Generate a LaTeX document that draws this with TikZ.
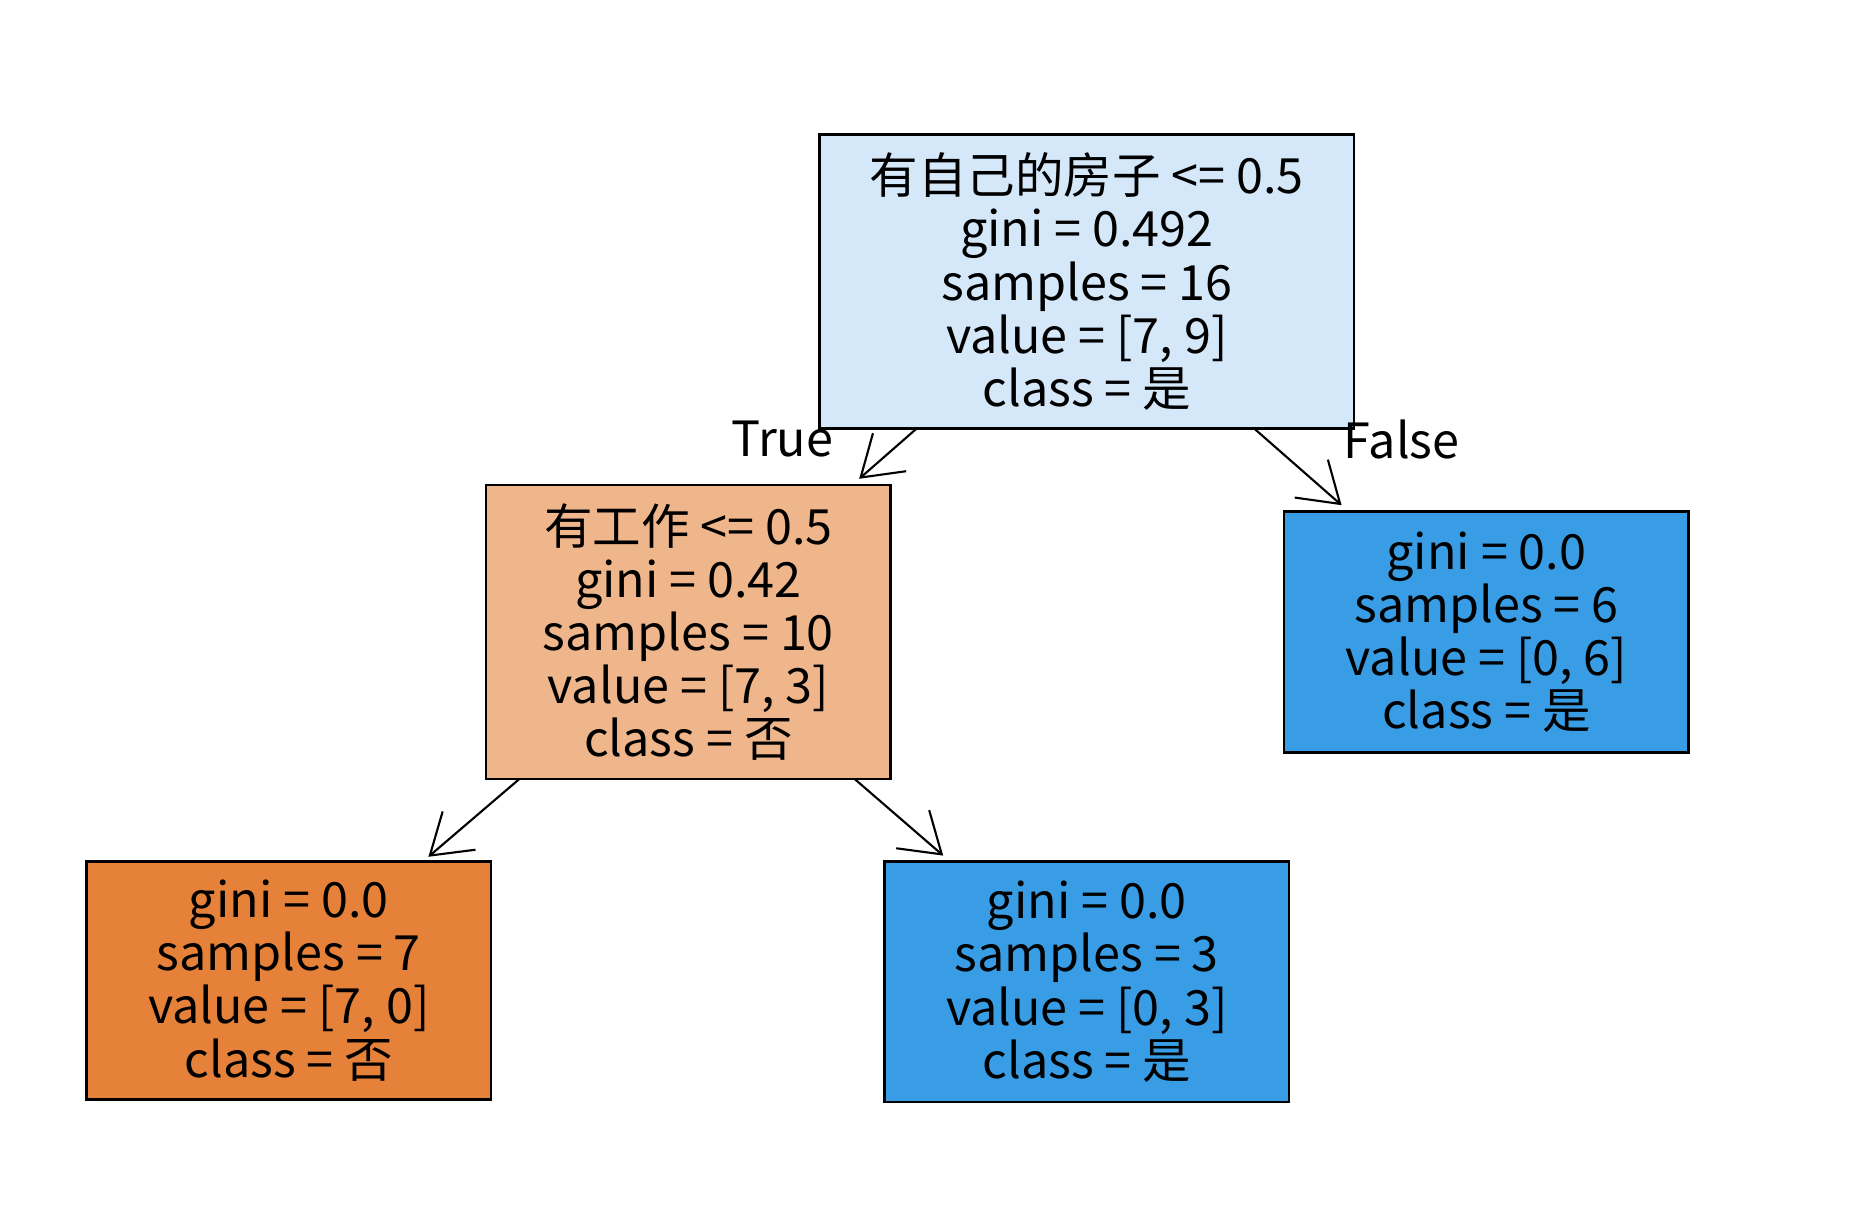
\documentclass[tikz,border=0pt]{standalone}
\usepackage{fontspec}
\setmainfont{Noto Sans CJK SC}
\usetikzlibrary{arrows.meta}
\definecolor{lb}{HTML}{D5E8F9}
\definecolor{lo}{HTML}{F0B68B}
\definecolor{bb}{HTML}{399DE5}
\definecolor{oo}{HTML}{E58139}
\begin{document}
\begin{tikzpicture}[x=0.01cm,y=-0.01cm,
  box/.style={draw=black,line width=0.6pt,anchor=north west,inner sep=0pt,align=center,font=\fontsize{11.5}{12.6}\selectfont},
  arr/.style={-{Straight Barb[length=3.2mm,width=4.2mm]},line width=0.5pt},
  lab/.style={font=\fontsize{11.5}{12.6}\selectfont}]
\useasboundingbox (0,0) rectangle (1560,1025);
\node[box,fill=lb,minimum width=4.45cm,minimum height=2.45cm] (root) at (682,111) {有自己的房子 <= 0.5\\gini = 0.492\\samples = 16\\value = [7, 9]\\class = 是};
\node[box,fill=lo,minimum width=3.37cm,minimum height=2.45cm] (l) at (404,403) {有工作 <= 0.5\\gini = 0.42\\samples = 10\\value = [7, 3]\\class = 否};
\node[box,fill=bb,minimum width=3.37cm,minimum height=2.01cm] (r) at (1069,425) {gini = 0.0\\samples = 6\\value = [0, 6]\\class = 是};
\node[box,fill=oo,minimum width=3.37cm,minimum height=1.98cm] (ll) at (71,717) {gini = 0.0\\samples = 7\\value = [7, 0]\\class = 否};
\node[box,fill=bb,minimum width=3.37cm,minimum height=2.0cm] (lr) at (736,717) {gini = 0.0\\samples = 3\\value = [0, 3]\\class = 是};
\coordinate (a1) at (764,357); \coordinate (a2) at (716,399);
\coordinate (b1) at (1045,357); \coordinate (b2) at (1118,421);
\coordinate (c1) at (433,649); \coordinate (c2) at (357,714);
\coordinate (d1) at (712,649); \coordinate (d2) at (786,713);
\draw[arr] (a1) -- (a2);
\draw[arr] (b1) -- (b2);
\draw[arr] (c1) -- (c2);
\draw[arr] (d1) -- (d2);
\node[lab] (t) at (652,366) {True};
\node[lab] (f) at (1168,366) {False};
\end{tikzpicture}
\end{document}
